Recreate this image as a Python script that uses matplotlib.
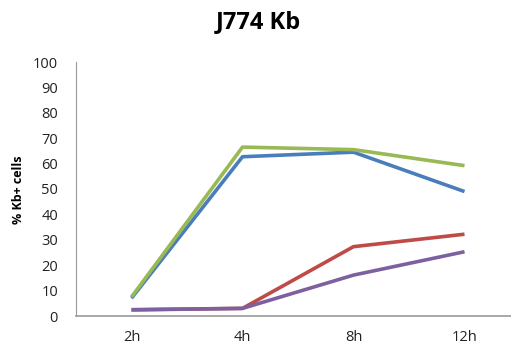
import matplotlib
matplotlib.use("Agg")
import matplotlib.pyplot as plt

categories = ["2h", "4h", "8h", "12h"]
blue = [7.0, 62.7, 64.5, 49.0]
red = [2.4, 3.0, 27.3, 32.2]
green = [7.5, 66.5, 65.5, 59.2]
purple = [2.5, 3.0, 16.1, 25.3]
yticks = list(range(0, 101, 10))

plt.rcParams["font.family"] = ["Open Sans", "DejaVu Sans"]

fig = plt.figure(figsize=(5.11, 3.54), dpi=100)
ax = fig.add_axes([76 / 511, 38 / 354, 444 / 511, 254 / 354])

x = list(range(len(categories)))
ax.plot(x, blue, color="#4A7EBB", lw=2.6, solid_capstyle="butt")
ax.plot(x, red, color="#BE4B48", lw=2.6, solid_capstyle="butt")
ax.plot(x, green, color="#98B954", lw=2.6, solid_capstyle="butt")
ax.plot(x, purple, color="#7D60A0", lw=2.6, solid_capstyle="butt")

ax.set_xlim(-0.5, 3.5)
ax.set_ylim(0, 100)
ax.set_xticks(x)
ax.set_xticklabels(categories)
ax.set_yticks(yticks)
ax.tick_params(axis="both", length=0, labelsize=10.5, colors="#222222")
ax.tick_params(axis="x", pad=10)
ax.tick_params(axis="y", pad=13)
for lbl in ax.get_yticklabels():
    lbl.set_horizontalalignment("right")

for side in ("top", "right"):
    ax.spines[side].set_visible(False)
ax.spines["left"].set_color("#9a9a9a")
ax.spines["bottom"].set_color("#9a9a9a")
ax.spines["bottom"].set_linewidth(1.2)

fig.text(18 / 511, 1 - 190 / 354, "% Kb+ cells", rotation=90, ha="center",
         va="center", fontsize=9, fontweight="bold")
fig.text(258 / 511, 1 - 22 / 354, "J774 Kb", ha="center", va="center",
         fontsize=17, fontweight="bold")

fig.savefig("out.png", dpi=100)
